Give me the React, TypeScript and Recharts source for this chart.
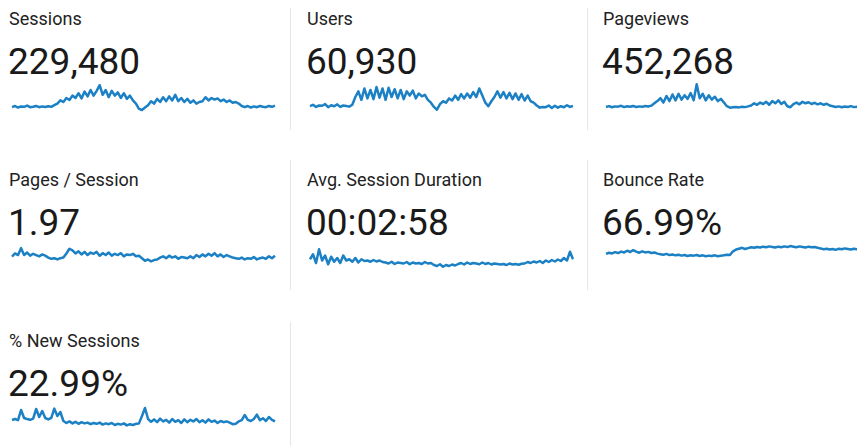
import { LineChart, Line, XAxis, YAxis } from 'recharts'

const labels = ['Sessions', 'Users', 'Pageviews', 'Pages / Session', 'Avg. Session Duration', 'Bounce Rate', '% New Sessions']
const totals = ['229,480', '60,930', '452,268', '1.97', '00:02:58', '66.99%', '22.99%']

const sessions = [
  470, 500, 460, 490, 480, 510, 470, 480, 500, 470, 490, 475, 495, 480, 520,
  560, 640, 600, 700, 650, 760,
  700, 820, 690, 860, 740, 900, 760, 880, 1020, 780, 900, 720, 880, 760, 840, 700, 820, 680, 760, 640,
  560, 430, 400, 460,
  520, 620, 560, 680, 600, 720, 620, 740, 640, 780, 620, 700, 600, 680, 580, 640, 560, 600,
  620, 720, 640, 700, 660, 690, 620, 660, 600, 640, 580, 600, 560,
  500, 470, 500, 460, 490, 470, 500, 480, 470, 500, 480, 510,
]

const users = [
  125, 135, 120, 130, 128, 140, 118, 132, 125, 138, 120, 130, 126, 122, 135,
  190,
  230, 170, 250, 180, 240, 175, 260, 185, 250, 170, 255, 190, 245, 180, 240, 175, 230, 200, 235, 180, 215, 195, 205,
  170, 150, 120, 100,
  140, 160, 150, 180, 165, 200, 170, 210, 180, 215, 185, 225, 190,
  250, 200,
  150, 125, 160,
  190, 230, 185, 225, 180, 220, 175, 215, 170, 210, 165, 200, 160,
  150, 130, 115, 120,
  118, 130, 112, 128, 115, 125, 118, 132, 120, 126,
]

const pageviews = [
  900, 960, 880, 940, 920, 980, 890, 950, 910, 970, 900, 940, 920, 960, 930, 990,
  1150, 1300,
  1500, 1200, 1650, 1300, 1750, 1350, 1800, 1400, 1700, 1450, 1850, 1350, 2450, 1500, 1800, 1350, 1700, 1400, 1600, 1300, 1450,
  1200, 950, 850,
  880, 900, 870, 920, 890, 940,
  1000, 1150, 1050, 1200, 1100, 1250, 1050, 1300, 1150, 1350, 1100, 1250,
  950, 880,
  1100, 1200, 1080, 1250, 1150, 1220, 1100, 1180, 1080, 1150, 1050, 1120, 1000,
  950, 900, 940, 880, 930, 900, 960, 890, 920, 950, 900, 940, 910,
]

const pagesPerSession = [
  1.95, 2.05, 2.0, 2.22, 2.0, 2.08, 1.98, 2.04, 2.0, 1.96, 2.02, 1.98,
  1.92, 1.88, 1.9, 1.86, 1.9, 1.92,
  2.05, 2.2,
  2.15, 2.05, 2.12, 2.02, 2.1, 2.0, 2.08, 2.04, 2.1, 1.98, 2.06, 2.0, 2.08, 1.98, 2.04, 2.0, 2.06, 1.96, 2.02,
  2.0, 2.04, 1.96, 1.98,
  1.9, 1.82, 1.86, 1.8, 1.84, 1.86,
  1.92, 1.96, 1.9, 1.98, 1.92, 1.96, 1.88, 1.94, 1.92, 1.9,
  1.96, 1.9, 2.0, 1.94, 2.02, 1.96, 2.04, 1.98, 2.06, 1.96, 2.02, 1.94, 2.0, 1.96, 1.92,
  1.9, 1.88, 1.92, 1.86, 1.9, 1.88, 1.94, 1.86, 1.9, 1.92, 1.88, 1.96, 1.9, 1.98,
]

// seconds
const avgDuration = [
  185, 205, 170, 225, 180, 200, 165,
  195, 175, 190, 170, 200, 180, 185, 175, 190, 172, 185, 178,
  180, 175, 182, 176, 180, 174,
  172, 168, 175, 166, 172, 170, 168, 174, 165, 172, 168, 170, 166, 174, 168, 170,
  162, 158, 165, 155, 162, 158, 164, 160,
  166, 170, 164, 172, 166, 170, 168, 165, 172, 166, 170, 164, 168, 166,
  164, 166, 162, 168, 164, 166, 163, 167,
  168, 174, 170, 176, 172, 178, 170, 180, 174, 182, 176, 184,
  178, 190, 180, 215, 185,
]

const bounceRate = [
  65.2, 66.0, 65.5, 66.4, 65.8, 66.8, 66.2, 67.4, 66.5, 67.8, 66.8, 66.0, 67.0, 66.2, 66.6, 65.8, 66.2, 65.4,
  65.0, 64.6, 65.2, 64.4, 64.8, 64.2, 64.6, 64.0, 64.4, 63.8, 64.2, 64.0, 64.4, 63.8, 64.2, 63.6, 64.0, 63.8, 64.2, 63.6, 64.0, 64.2, 64.6, 64.4,
  67.0, 68.2,
  68.8, 69.4, 68.6, 69.2, 69.8, 69.4, 70.0, 69.6, 70.2, 69.8, 70.4, 70.0, 69.6, 70.2, 69.8, 70.4, 70.0, 70.6, 70.2, 69.8, 70.4, 70.0, 69.6, 70.2, 69.8, 70.0, 69.4,
  69.0, 68.4, 68.8, 68.2, 68.6, 68.0, 68.8, 68.4, 69.0, 68.6, 68.2, 68.8, 68.4, 68.6, 68.2, 68.8, 68.4,
]

const newSessions = [
  22.5, 23.0, 22.4, 27.5, 23.5, 23.0, 22.6, 23.2, 28.0, 24.0, 27.0, 23.5, 22.8, 23.6, 28.2, 24.5,
  26.5,
  22.0, 21.0, 21.8, 20.8, 21.6, 20.6, 21.4, 20.8, 21.2, 20.4, 21.0, 20.6, 21.2, 20.2, 20.8, 20.4, 21.0, 20.0, 20.6, 20.2, 20.8, 19.8, 20.4, 20.0, 20.6, 20.8,
  24.5, 28.5,
  23.0, 21.6, 22.8, 21.4, 23.2, 21.8, 22.6, 21.2, 23.0, 21.6, 22.4, 21.0, 22.8, 21.4, 22.6, 21.8, 23.0, 21.4, 22.4, 21.2, 22.8, 21.6, 22.2, 21.0, 22.0, 21.4, 21.8, 21.2,
  20.4, 20.6,
  21.8, 22.4, 25.0, 22.6,
  22.0, 23.0, 25.2, 22.4, 23.4, 22.0, 24.0, 22.6, 21.8,
]

const series = [sessions, users, pageviews, pagesPerSession, avgDuration, bounceRate, newSessions]
const domains: [number, number][] = [
  [300, 1150], [70, 310], [420, 2740],
  [1.43, 2.51], [130, 266], [52, 75.5],
  [14.5, 31.5],
]

const colLeft = [1, 299, 595]
const rowTop = [2, 163, 324]

function Sparkline({ values, domain }: { values: number[], domain: [number, number] }) {
  const data = values.map((v, i) => ({ i, v }))
  return (
    <LineChart width={265} height={34} data={data} margin={{ top: 0, right: 1, bottom: 0, left: 1 }}>
      <XAxis dataKey="i" hide type="number" domain={['dataMin', 'dataMax']} />
      <YAxis hide domain={domain} allowDataOverflow />
      <Line type="linear" dataKey="v" stroke="#1b80c4" strokeWidth={2.5} strokeLinejoin="round" dot={false} isAnimationActive={false} />
    </LineChart>
  )
}

function Tile({ idx }: { idx: number }) {
  const col = idx % 3
  const row = Math.floor(idx / 3)
  const left = colLeft[col]
  const top = rowTop[row]
  return (
    <>
      <div style={{ position: 'absolute', left, top, fontSize: 18, lineHeight: '18px', color: '#222', whiteSpace: 'nowrap' }}>
        {labels[idx]}
      </div>
      <div style={{ position: 'absolute', left: left - 1, top: top + 33, fontSize: 37, lineHeight: '37px', color: '#1a1a1a', whiteSpace: 'nowrap' }}>
        {totals[idx]}
      </div>
      <div style={{ position: 'absolute', left: left + 2, top: top + (row === 1 ? 68 : 70) }}>
        <Sparkline values={series[idx]} domain={domains[idx]} />
      </div>
    </>
  )
}

export default function App() {
  const divider = (x: number, y1: number, y2: number) => (
    <div style={{ position: 'absolute', left: x, top: y1, width: 1, height: y2 - y1, background: '#e9e3ea' }} />
  )
  return (
    <div style={{ position: 'relative', width: 857, height: 438, overflow: 'hidden', fontFamily: 'Roboto, sans-serif', background: '#fff' }}>
      {divider(282, 0, 122)}
      {divider(579, 0, 122)}
      {divider(282, 152, 282)}
      {divider(579, 152, 282)}
      {divider(282, 314, 438)}
      {labels.map((_, i) => <Tile key={i} idx={i} />)}
    </div>
  )
}
